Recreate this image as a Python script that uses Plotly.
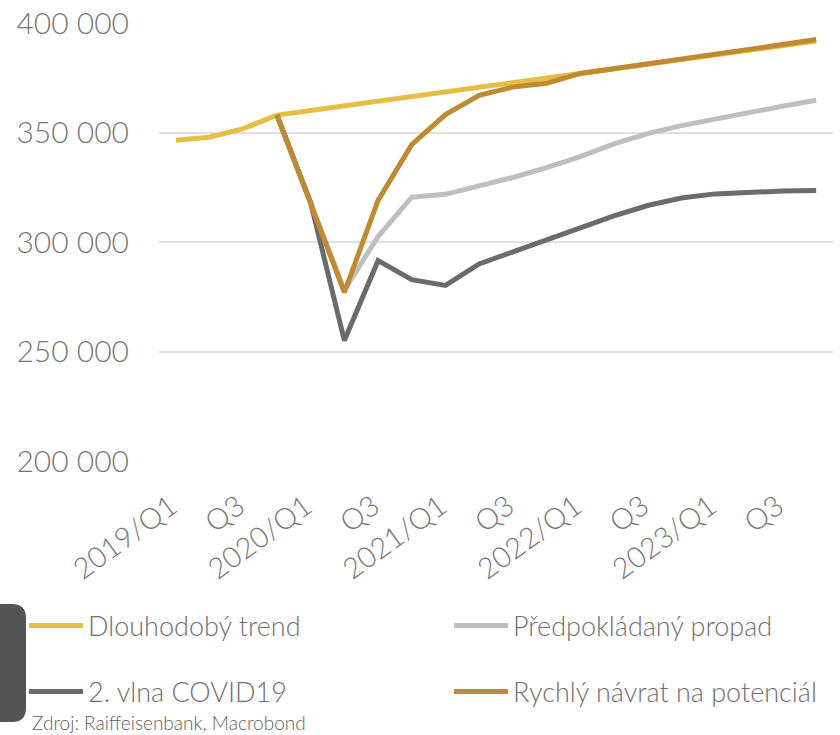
import plotly.graph_objects as go

# ---------------- data ----------------
quarters = [f"{y}/Q{q}" for y in range(2019, 2024) for q in range(1, 5)]
tick_vals = [f"{y}/Q{q}" for y in range(2019, 2024) for q in (1, 3)]
tick_text = ["2019/Q1", "Q3", "2020/Q1", "Q3", "2021/Q1", "Q3", "2022/Q1", "Q3", "2023/Q1", "Q3"]

trend = [346500, 347900, 351800, 358000, 360100, 362200, 364300, 366400, 368500, 370600,
         372700, 374800, 376900, 379000, 381200, 383300, 385400, 387500, 389600, 391800]
propad = [None, None, None, 358000, 317500, 278000, 302500, 320500, 321800, 325500,
          329500, 334000, 339000, 344800, 349500, 353200, 356300, 359200, 362000, 364800]
covid = [None, None, None, 358000, 318000, 255000, 291500, 282800, 280200, 290000,
         295600, 301200, 306800, 312000, 316700, 320100, 322000, 322800, 323300, 323600]
rychly = [None, None, None, 358000, 317000, 277000, 319000, 344500, 358200, 367000,
          370800, 372500, 377000, 379300, 381500, 383600, 385800, 388000, 390200, 392500]

y_tick_vals = [200000, 250000, 300000, 350000, 400000]
y_tick_text = ["200 000", "250 000", "300 000", "350 000", "400 000"]

names = ["Dlouhodobý trend", "Předpokládaný propad", "2. vlna COVID19", "Rychlý návrat na potenciál"]
source_text = "Zdroj: Raiffeisenbank, Macrobond"

# ---------------- style ----------------
colors = ["#E5BF45", "#BFBFBF", "#6B6B6B", "#BF8A32"]
FONT = "Lato"
W, H = 840, 735
L, R, T, B = 159, 7, 23, 274
PW, PH = W - L - R, H - T - B


def px(x):
    return (x - L) / PW


def py(y):
    return (H - B - y) / PH


# one legend per entry so each can be placed like the reference
legend_ids = ["legend", "legend2", "legend3", "legend4"]
legend_pos = [(24, 626), (449, 626), (24, 692), (449, 692)]

fig = go.Figure()
series = [trend, propad, covid, rychly]
for s, n, c, lg in zip(series, names, colors, legend_ids):
    fig.add_trace(go.Scatter(
        x=quarters, y=s, name=n, mode="lines",
        line=dict(color=c, width=5), legend=lg, hoverinfo="skip",
    ))

legend_common = dict(
    orientation="h", xref="container", yref="container", xanchor="left", yanchor="middle",
    font=dict(family=FONT, size=27, color="#707070", weight=300), bgcolor="rgba(0,0,0,0)",
    itemwidth=54, borderwidth=0,
)
legend_layout = {
    lid: dict(**legend_common, x=lx / W, y=(H - ly) / H)
    for lid, (lx, ly) in zip(legend_ids, legend_pos)
}

fig.update_layout(
    width=W, height=H,
    margin=dict(l=L, r=R, t=T, b=B, pad=0, autoexpand=False),
    paper_bgcolor="white", plot_bgcolor="white",
    font=dict(family=FONT, color="#707070"),
    showlegend=True,
    **legend_layout,
    xaxis=dict(
        type="category", categoryorder="array", categoryarray=quarters,
        range=[-0.5, len(quarters) - 0.5],
        tickmode="array", tickvals=tick_vals, ticktext=tick_text,
        tickangle=-36, tickfont=dict(family=FONT, size=29, color="#777777", weight=300),
        showgrid=False, zeroline=False, showline=False, ticks="",
        ticklabelstandoff=22, ticklabelshift=-5, automargin=False,
    ),
    yaxis=dict(
        range=[200000, 400050], tickmode="array", tickvals=y_tick_vals, ticktext=y_tick_text,
        tickfont=dict(family=FONT, size=30, color="#777777", weight=300),
        showgrid=True, gridcolor="#E0E0E0", gridwidth=2, zeroline=False, showline=False,
        ticks="", ticklabelstandoff=29, automargin=False,
    ),
)

# decorative rounded block at the left edge
x0, x1, y0, y1, r = -2, 26, 604, 722, 14
path = (f"M {px(x0)},{py(y0)} L {px(x1 - r)},{py(y0)} "
        f"Q {px(x1)},{py(y0)} {px(x1)},{py(y0 + r)} "
        f"L {px(x1)},{py(y1 - r)} Q {px(x1)},{py(y1)} {px(x1 - r)},{py(y1)} "
        f"L {px(x0)},{py(y1)} Z")
fig.add_shape(type="path", path=path, xref="paper", yref="paper",
              fillcolor="#555555", line=dict(width=0), layer="above")

fig.add_annotation(
    text=source_text, xref="paper", yref="paper", x=px(30), y=py(722),
    xanchor="left", yanchor="middle", showarrow=False,
    font=dict(family=FONT, size=19, color="#606060", weight=300),
)

# the page body has a default 8px margin; remove it so the figure fills the window
fig.write_html("out.html", config={"displayModeBar": False},
               post_script="document.body.style.margin='0';")
